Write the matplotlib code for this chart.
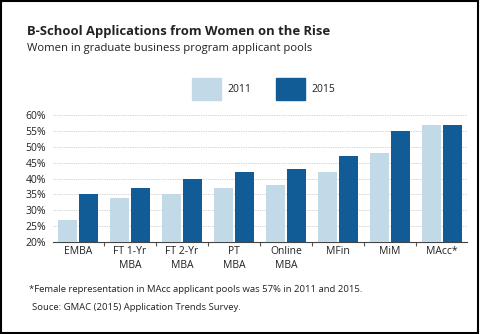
import matplotlib.pyplot as plt
import numpy as np

categories = ["EMBA", "FT 1-Yr\nMBA", "FT 2-Yr\nMBA", "PT\nMBA", "Online\nMBA", "MFin", "MiM", "MAcc*"]
values_2011 = [27, 34, 35, 37, 38, 42, 48, 57]
values_2015 = [35, 37, 40, 42, 43, 47, 55, 57]
yticks = [20, 25, 30, 35, 40, 45, 50, 55, 60]

light = "#c2d9e8"
dark = "#115b96"

plt.rcParams["font.family"] = ["Open Sans", "DejaVu Sans"]

fig = plt.figure(figsize=(4.8, 3.34), dpi=100)
ax = fig.add_axes([0.110, 0.2754, 0.863, 0.3803])

x = np.arange(len(categories))
w = 0.37
ax.bar(x - 0.2, values_2011, w, color=light, zorder=3)
ax.bar(x + 0.2, values_2015, w, color=dark, zorder=3)

ax.set_ylim(20, 60)
ax.set_xlim(-0.48, len(categories) - 0.52)
ax.set_yticks(yticks)
ax.set_yticklabels([f"{v}%" for v in yticks], fontsize=7.5, color="#222222")
ax.set_xticks(x)
ax.set_xticklabels(categories, fontsize=7.5, color="#222222", linespacing=1.3)
ax.set_xticks(x[:-1] + 0.5, minor=True)
ax.tick_params(axis="x", which="major", length=0, pad=3)
ax.tick_params(axis="x", which="minor", length=3, width=0.8, color="#555555")
ax.tick_params(axis="y", length=0, pad=5)
ax.yaxis.grid(True, linestyle=(0, (1, 1.5)), color="#aaaaaa", linewidth=0.5, zorder=0)
for s in ["top", "right", "left"]:
    ax.spines[s].set_visible(False)
ax.spines["bottom"].set_color("#444444")
ax.spines["bottom"].set_linewidth(0.8)

# titles
fig.text(27 / 480, 1 - 32 / 334, "B-School Applications from Women on the Rise",
         fontsize=9.4, fontweight="bold", color="#222222", va="center")
fig.text(27 / 480, 1 - 48 / 334, "Women in graduate business program applicant pools",
         fontsize=8.1, color="#222222", va="center")

# legend
fig.patches.append(plt.Rectangle((192 / 480, 1 - 100 / 334), 29 / 480, 22 / 334,
                                 transform=fig.transFigure, color=light))
fig.text(227 / 480, 1 - 90 / 334, "2011", fontsize=7.5, color="#222222", va="center")
fig.patches.append(plt.Rectangle((276 / 480, 1 - 100 / 334), 29 / 480, 22 / 334,
                                 transform=fig.transFigure, color=dark))
fig.text(311 / 480, 1 - 90 / 334, "2015", fontsize=7.5, color="#222222", va="center")

# footnotes
fig.text(29 / 480, 1 - 289 / 334,
         "*Female representation in MAcc applicant pools was 57% in 2011 and 2015.",
         fontsize=6.8, color="#222222", va="center")
fig.text(32 / 480, 1 - 308 / 334, "Souce: GMAC (2015) Application Trends Survey.",
         fontsize=6.8, color="#222222", va="center")

# frame around the figure
fig.patches.append(plt.Rectangle((0.002, 0.003), 0.994, 0.994, transform=fig.transFigure,
                                 fill=False, edgecolor="black", linewidth=1.5))

fig.savefig("out.png", dpi=100)
